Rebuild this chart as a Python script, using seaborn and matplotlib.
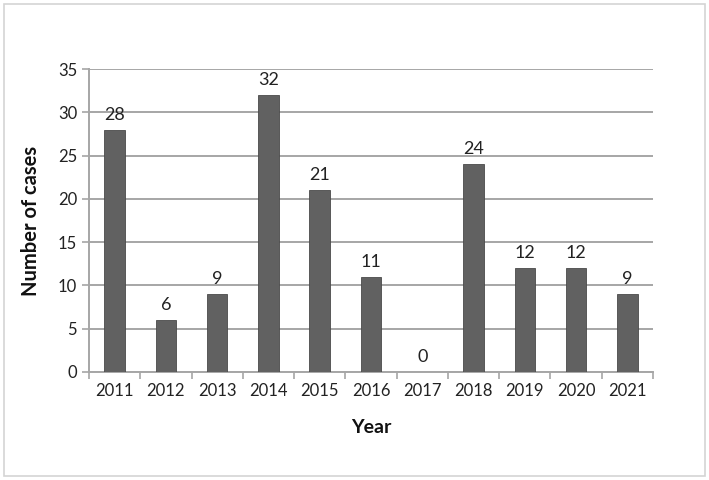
import pandas as pd
import seaborn as sns
import matplotlib.pyplot as plt
from matplotlib.patches import Rectangle

# Data
years = ['2011', '2012', '2013', '2014', '2015', '2016', '2017', '2018', '2019', '2020', '2021']
cases = [28, 6, 9, 32, 21, 11, 0, 24, 12, 12, 9]

df = pd.DataFrame({'Year': years, 'Cases': cases})

sns.set_theme(style="white")
plt.rcParams['font.family'] = ['Lato', 'DejaVu Sans']

fig = plt.figure(figsize=(7.09, 4.80), dpi=100)
ax = fig.add_axes([0.1255, 0.225, 0.7955, 0.631])

sns.barplot(data=df, x='Year', y='Cases', color='#616161', width=0.4,
            edgecolor='#4a4a4a', linewidth=0.6, saturation=1, ax=ax, zorder=3)

# value labels above bars
for i, v in enumerate(cases):
    ax.text(i, v + 0.8, str(v), ha='center', va='bottom', fontsize=13, color='#222222', zorder=4)

ax.set_ylim(0, 35)
ax.set_xlim(-0.5, len(years) - 0.5)
ax.set_yticks(range(0, 36, 5))
ax.yaxis.grid(True, color='#a6a6a6', linewidth=1.4, zorder=0)
ax.set_axisbelow(True)

# ticks between categories on x axis
ax.set_xticks([i - 0.5 for i in range(len(years) + 1)], minor=True)
ax.tick_params(axis='x', which='major', length=0, pad=8, labelsize=12, colors='#222222')
ax.tick_params(axis='x', which='minor', length=5, width=1.2, color='#a6a6a6', direction='out', bottom=True)
ax.tick_params(axis='y', length=5, width=1.2, color='#a6a6a6', direction='out', left=True,
               labelsize=12, labelcolor='#222222')

for side in ['top', 'right']:
    ax.spines[side].set_visible(False)
for side in ['left', 'bottom']:
    ax.spines[side].set_color('#a6a6a6')
    ax.spines[side].set_linewidth(1.4)

ax.set_xlabel('Year', fontsize=14, fontweight='bold', labelpad=14, color='#111111')
ax.set_ylabel('Number of cases', fontsize=14.5, fontweight='bold', labelpad=12, color='#111111')

# light frame around the whole picture
fig.patches.append(Rectangle((0.006, 0.008), 0.988, 0.984, transform=fig.transFigure,
                             fill=False, edgecolor='#d4d4d4', linewidth=1.2))

fig.savefig('out.png', dpi=100)
